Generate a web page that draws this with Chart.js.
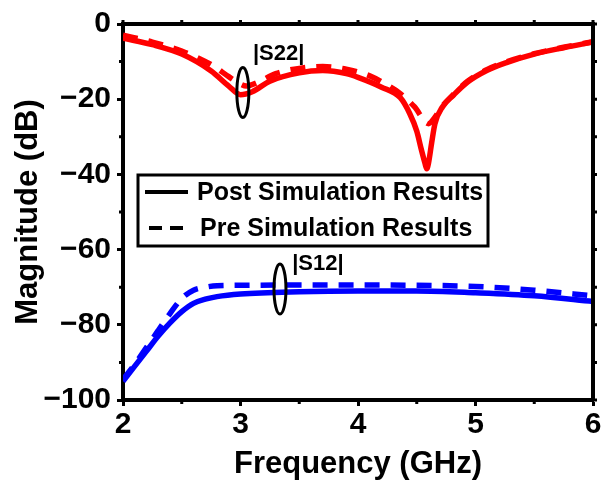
<!DOCTYPE html>
<html>
<head>
<meta charset="utf-8">
<script src="https://cdn.jsdelivr.net/npm/chart.js@4.4.1/dist/chart.umd.min.js"></script>
<style>
  body { margin: 0; background: #fff; }
  #wrap { width: 612px; height: 484px; position: relative; }
</style>
</head>
<body>
<div id="wrap"><canvas id="grafico"></canvas></div>
<script>
// S22 curves (GHz, dB)
const freqS22 = [2.0, 2.25, 2.5, 2.75, 2.9, 3.0, 3.1, 3.25, 3.5, 3.7, 3.9, 4.0, 4.2, 4.36, 4.44, 4.5, 4.54, 4.57, 4.585, 4.6, 4.627, 4.655, 4.72, 4.81, 4.93, 5.1, 5.27, 5.5, 5.75, 6.0];
const s22Post = [-3.8, -5.5, -8.0, -12.5, -16.5, -18.8, -18.0, -15.2, -13.0, -12.4, -13.2, -14.2, -16.8, -19.6, -23.8, -28.5, -33.5, -37, -38.5, -37, -31.6, -26.5, -22, -19, -15.5, -12.3, -10.2, -8.0, -6.3, -4.8];
const freqS22Pre = [2.0, 2.25, 2.5, 2.75, 2.9, 3.0, 3.05, 3.15, 3.3, 3.5, 3.7, 3.9, 4.1, 4.25, 4.36, 4.48, 4.6, 4.65, 4.72, 4.81, 4.93, 5.1, 5.27, 5.5, 5.75, 6.0];
const s22Pre = [-3.0, -4.8, -7.2, -10.8, -14.0, -16.0, -16.5, -15.5, -13.2, -11.8, -11.3, -12.0, -13.8, -16.3, -18.5, -22, -26.5, -25, -21.8, -18.8, -15.3, -12.1, -10.0, -7.9, -6.2, -4.7];

// S12 curves
const freqS12 = [2.0, 2.1, 2.2, 2.3, 2.4, 2.5, 2.6, 2.7, 2.8, 3.0, 3.5, 4.0, 4.5, 5.0, 5.5, 6.0];
const s12Post = [-95, -91, -87, -83, -79.5, -76.5, -74.3, -73.2, -72.5, -71.8, -71.2, -71.0, -71.0, -71.5, -72.3, -73.8];
const s12Pre = [-94.5, -90.5, -86, -81.5, -77, -73, -70.8, -70.0, -69.6, -69.5, -69.4, -69.4, -69.5, -69.8, -70.8, -72.3];

// eixos
const xTicks = [2, 3, 4, 5, 6];
const yTicks = [0, -20, -40, -60, -80, -100];

// anotações: rótulo, centro da elipse (GHz, dB), posição do texto (GHz, dB)
const annotLabels = ['|S22|', '|S12|'];
const annotEllipse = [[3.02, -18.2], [3.336, -70.5]];
const annotText = [[3.106, -7.9], [3.44, -63.9]];

const legendLabels = ['Post Simulation Results', 'Pre Simulation Results'];

const FONT = '"Liberation Sans", Arial, sans-serif';

function pts(xs, ys) {
    return xs.map((x, i) => ({ x: x, y: ys[i] }));
}

// moldura, ticks secundários, legenda e anotações
const extras = {
    id: 'extras',
    afterDatasetsDraw(chart) {
        const ctx = chart.ctx;
        const { left, right, top, bottom } = chart.chartArea;
        const sx = chart.scales.x, sy = chart.scales.y;
        ctx.save();

        // anotações
        ctx.strokeStyle = '#000';
        ctx.lineWidth = 3;
        annotEllipse.forEach(e => {
            ctx.beginPath();
            ctx.ellipse(sx.getPixelForValue(e[0]), sy.getPixelForValue(e[1]), 6, 25, 0, 0, Math.PI * 2);
            ctx.stroke();
        });
        ctx.fillStyle = '#000';
        ctx.font = 'bold 22px ' + FONT;
        ctx.textBaseline = 'middle';
        ctx.textAlign = 'left';
        annotText.forEach((t, i) => {
            ctx.fillText(annotLabels[i], sx.getPixelForValue(t[0]), sy.getPixelForValue(t[1]));
        });

        // legenda
        ctx.fillStyle = '#fff';
        ctx.fillRect(138, 175, 350, 71);
        ctx.lineWidth = 3;
        ctx.strokeRect(138, 175, 350, 71);
        ctx.lineWidth = 4;
        ctx.beginPath();
        ctx.moveTo(145, 192);
        ctx.lineTo(188, 192);
        ctx.stroke();
        ctx.setLineDash([13, 8]);
        ctx.beginPath();
        ctx.moveTo(149, 228);
        ctx.lineTo(190, 228);
        ctx.stroke();
        ctx.setLineDash([]);
        ctx.fillStyle = '#000';
        ctx.font = 'bold 25px ' + FONT;
        ctx.fillText(legendLabels[0], 197, 193);
        ctx.fillText(legendLabels[1], 200, 229);

        // moldura superior/direita
        ctx.lineWidth = 4;
        ctx.strokeStyle = '#000';
        ctx.beginPath();
        ctx.moveTo(left, top);
        ctx.lineTo(right, top);
        ctx.lineTo(right, bottom);
        ctx.stroke();

        // ticks pequenos
        ctx.lineWidth = 3;
        ctx.beginPath();
        for (let v = 2; v <= 6.001; v += 0.5) {
            const px = sx.getPixelForValue(v);
            ctx.moveTo(px, top);
            ctx.lineTo(px, top - 4);
            if (Math.abs(v - Math.round(v)) > 0.1) {
                ctx.moveTo(px, bottom);
                ctx.lineTo(px, bottom + 4);
            }
        }
        for (let v = 0; v >= -100; v -= 10) {
            const py = sy.getPixelForValue(v);
            ctx.moveTo(right, py);
            ctx.lineTo(right + 4, py);
            if (v % 20 !== 0) {
                ctx.moveTo(left, py);
                ctx.lineTo(left - 4, py);
            }
        }
        ctx.stroke();
        ctx.restore();
    }
};

const ctx = document.getElementById('grafico').getContext('2d');
new Chart(ctx, {
    type: 'line',
    data: {
        datasets: [
            {
                data: pts(freqS22, s22Post),
                borderColor: 'rgb(255,0,0)',
                borderWidth: 5.5,
                order: 0
            },
            {
                data: pts(freqS12, s12Post),
                borderColor: 'rgb(0,0,255)',
                borderWidth: 5.5,
                order: 0
            },
            {
                data: pts(freqS22Pre, s22Pre),
                borderColor: 'rgb(255,0,0)',
                borderWidth: 5.5,
                borderDash: [15, 11],
                order: 1
            },
            {
                data: pts(freqS12, s12Pre),
                borderColor: 'rgb(0,0,255)',
                borderWidth: 5.5,
                borderDash: [15, 11],
                order: 1
            }
        ]
    },
    options: {
        responsive: true,
        maintainAspectRatio: false,
        animation: false,
        devicePixelRatio: 1,
        layout: { padding: { left: 10, right: 19, top: 20, bottom: 0 } },
        elements: {
            point: { radius: 0 },
            line: { cubicInterpolationMode: 'monotone', borderCapStyle: 'butt' }
        },
        plugins: {
            legend: { display: false },
            tooltip: { enabled: false }
        },
        scales: {
            x: {
                type: 'linear',
                min: 2,
                max: 6,
                afterBuildTicks: s => { s.ticks = xTicks.map(v => ({ value: v })); },
                afterFit: s => { s.height = 84; },
                grid: { drawOnChartArea: false, tickLength: 6, tickWidth: 3, color: '#000' },
                border: { color: '#000', width: 4 },
                ticks: {
                    color: '#000',
                    padding: 1,
                    font: { family: FONT, size: 30, weight: 'bold' }
                },
                title: {
                    display: true,
                    text: 'Frequency (GHz)',
                    color: '#000',
                    padding: { top: 0, bottom: 1 },
                    font: { family: FONT, size: 31, weight: 'bold' }
                }
            },
            y: {
                min: -100,
                max: 0,
                afterBuildTicks: s => { s.ticks = yTicks.map(v => ({ value: v })); },
                afterFit: s => { s.width = 113; },
                grid: { drawOnChartArea: false, tickLength: 6, tickWidth: 3, color: '#000' },
                border: { color: '#000', width: 4 },
                ticks: {
                    color: '#000',
                    padding: 6,
                    font: { family: FONT, size: 30, weight: 'bold' },
                    callback: v => String(v).replace('-', '\u2212')
                },
                title: {
                    display: true,
                    text: 'Magnitude (dB)',
                    color: '#000',
                    padding: { top: 0, bottom: 0 },
                    font: { family: FONT, size: 31, weight: 'bold' }
                }
            }
        }
    },
    plugins: [extras]
});
</script>
</body>
</html>
